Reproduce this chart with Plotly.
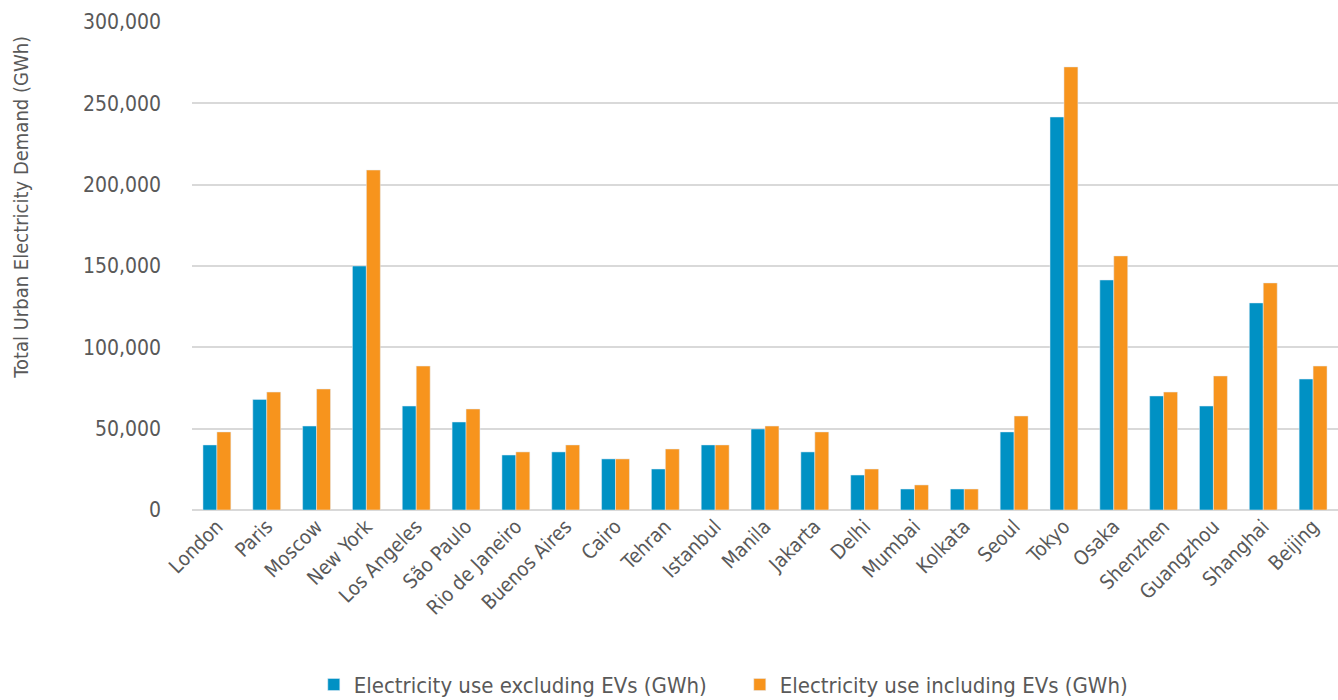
import plotly.graph_objects as go

cities = ["London", "Paris", "Moscow", "New York", "Los Angeles", "São Paulo",
          "Rio de Janeiro", "Buenos Aires", "Cairo", "Tehran", "Istanbul", "Manila",
          "Jakarta", "Delhi", "Mumbai", "Kolkata", "Seoul", "Tokyo", "Osaka",
          "Shenzhen", "Guangzhou", "Shanghai", "Beijing"]
excl_evs = [40000, 68000, 51600, 150000, 63900, 54100, 33800, 35700, 31400, 25200,
            40000, 49800, 35700, 21500, 12900, 12900, 48000, 241600, 141400,
            70100, 63900, 127300, 80500]
incl_evs = [48000, 72500, 74400, 209000, 88500, 62100, 35700, 40000, 31400, 37500,
            40000, 51600, 48000, 25200, 15400, 12900, 57800, 272400, 156200,
            72500, 82400, 139600, 88500]
series_names = ["Electricity use excluding EVs (GWh)", "Electricity use including EVs (GWh)"]
y_ticks = [0, 50000, 100000, 150000, 200000, 250000, 300000]
y_title = "Total Urban Electricity Demand (GWh)"

FONT = "Liberation Sans Narrow, DejaVu Sans Condensed, Roboto Condensed, Arial Narrow, sans-serif"
GRAY = "#595959"

fig = go.Figure()
fig.add_trace(go.Bar(x=cities, y=excl_evs, name=series_names[0], marker_color="#0091c4"))
fig.add_trace(go.Bar(x=cities, y=incl_evs, name=series_names[1], marker_color="#f7941d"))

fig.update_layout(
    width=1338, height=700,
    margin=dict(l=192, r=0, t=22, b=190, autoexpand=False),
    plot_bgcolor="white", paper_bgcolor="white",
    barmode="group", bargap=0.44, bargroupgap=0,
    font=dict(family=FONT, color=GRAY, size=20),
    showlegend=True,
    legend=dict(orientation="h", x=0.478, xanchor="center", y=-0.401, yanchor="bottom",
                font=dict(size=22, color=GRAY), itemwidth=30, traceorder="normal",
                entrywidth=381, entrywidthmode="pixels"),
    annotations=[dict(text=y_title, xref="paper", yref="paper", x=-0.149, y=0.62,
                      textangle=-90, showarrow=False, xanchor="center", yanchor="middle",
                      font=dict(size=20, color=GRAY))],
)
fig.update_yaxes(range=[0, 300000], tickvals=y_ticks, tickformat=",", showgrid=True,
                 gridcolor="#d9d9d9", gridwidth=2, zeroline=True, zerolinecolor="#d9d9d9",
                 zerolinewidth=2, showline=False, ticklabelstandoff=30,
                 tickfont=dict(size=21, color=GRAY))
fig.update_xaxes(tickangle=-45, showline=False, tickfont=dict(size=20, color=GRAY))

fig.write_html("out.html")
